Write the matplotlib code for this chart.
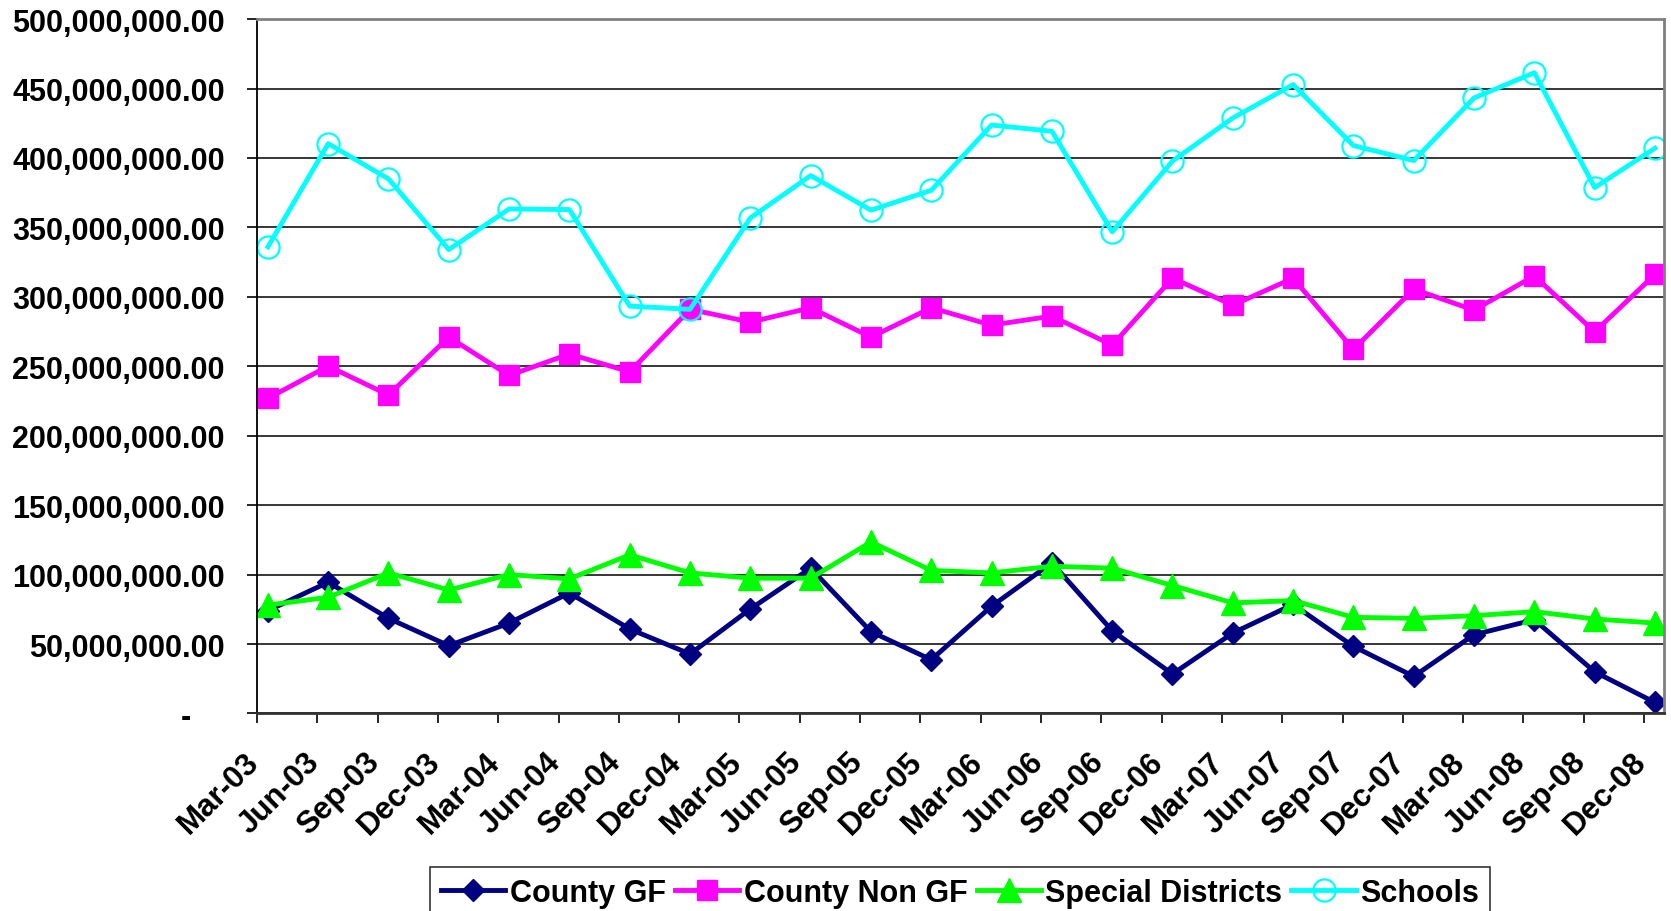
import matplotlib
matplotlib.use("Agg")
import matplotlib.pyplot as plt
from matplotlib.ticker import FuncFormatter, FixedLocator
from matplotlib.transforms import ScaledTranslation

plt.rcParams.update({"font.family": ["Liberation Sans", "DejaVu Sans"], "font.weight": "bold"})

quarters = ["Mar-03", "Jun-03", "Sep-03", "Dec-03", "Mar-04", "Jun-04", "Sep-04", "Dec-04",
            "Mar-05", "Jun-05", "Sep-05", "Dec-05", "Mar-06", "Jun-06", "Sep-06", "Dec-06",
            "Mar-07", "Jun-07", "Sep-07", "Dec-07", "Mar-08", "Jun-08", "Sep-08", "Dec-08"]

# values in millions
county_gf = [74.0, 94.5, 68.5, 48.8, 65.1, 86.8, 60.8, 42.8, 75.2, 104.6, 58.9, 38.7,
             77.2, 108.5, 59.6, 28.4, 57.9, 78.5, 48.3, 26.7, 56.7, 67.5, 30.0, 7.9]
county_non_gf = [226.9, 250.1, 229.3, 271.0, 243.4, 258.8, 246.0, 291.0, 281.8, 292.1, 271.0, 292.1,
                 279.6, 286.1, 265.2, 313.4, 294.0, 313.4, 262.1, 305.5, 290.4, 315.1, 274.8, 316.1]
special_districts = [78.0, 83.7, 101.2, 88.9, 100.0, 96.9, 114.2, 101.2, 97.4, 97.4, 123.5, 103.0,
                     101.2, 106.0, 104.6, 92.1, 79.6, 81.3, 69.2, 68.5, 70.4, 73.3, 68.0, 65.1]
schools = [336.0, 410.3, 384.9, 334.0, 363.3, 362.8, 293.3, 291.0, 356.8, 387.3, 362.4, 376.7,
           423.7, 419.2, 346.8, 397.8, 428.8, 452.8, 408.9, 398.1, 443.2, 461.4, 378.7, 407.0]

NAVY, MAGENTA, LIME, CYAN = "#000080", "#FF00FF", "#00FF00", "#00FFFF"

fig = plt.figure(figsize=(16.71, 9.12), dpi=100)
ax = fig.add_axes([0.1538, 0.2166, 0.842, 0.7614])

x = list(range(len(quarters)))
M = 1e6
ax.plot(x, [v * M for v in county_gf], color=NAVY, lw=3.5, marker="D", ms=11, label="County GF")
ax.plot(x, [v * M for v in county_non_gf], color=MAGENTA, lw=3.5, marker="s", ms=14, label="County Non GF")
ax.plot(x, [v * M for v in special_districts], color=LIME, lw=3.5, marker="^", ms=17, label="Special Districts")
ax.plot(x, [v * M for v in schools], color=CYAN, lw=3.5, marker="o", ms=16, mfc="none", mew=1.6,
        label="Schools")

ax.set_ylim(0, 500 * M)
ax.set_xlim(-0.18, len(quarters) - 1 + 0.15)
ax.set_yticks([i * 50 * M for i in range(11)])
ax.yaxis.set_major_formatter(FuncFormatter(lambda v, p: f"{v:,.2f}" if v else "-    "))
ax.xaxis.set_major_locator(FixedLocator([i - 0.18 for i in x]))
ax.set_xticklabels(quarters, rotation=45, ha="right", va="top", rotation_mode="anchor")
ax.tick_params(axis="both", direction="out", length=7.2, width=1.2, color="black")
ax.tick_params(axis="x", pad=20, labelsize=22.5)
ax.tick_params(axis="y", pad=16, labelsize=22)
shift = ScaledTranslation(-13 / 100, 5 / 100, fig.dpi_scale_trans)
for lab in ax.get_xticklabels():
    lab.set_transform(lab.get_transform() + shift)
for lab in ax.get_xticklabels() + ax.get_yticklabels():
    lab.set_fontweight("bold")

ax.grid(axis="y", color="black", lw=1.1)
ax.set_axisbelow(True)
ax.spines["left"].set_color("black"); ax.spines["left"].set_linewidth(1.3)
ax.spines["bottom"].set_color("#333333"); ax.spines["bottom"].set_linewidth(2)
for s in ["top", "right"]:
    ax.spines[s].set_color("#808080"); ax.spines[s].set_linewidth(2)

leg = fig.legend(loc="upper center", bbox_to_anchor=(0.5745, 0.0482), ncol=4, frameon=True,
                 fancybox=False, edgecolor="black", handlelength=2.1,
                 handletextpad=0.15, columnspacing=0.3, borderpad=0.35, borderaxespad=0,
                 prop={"weight": "bold", "size": 22})
leg.get_frame().set_linewidth(1.2)

fig.savefig("out.png", dpi=100)
